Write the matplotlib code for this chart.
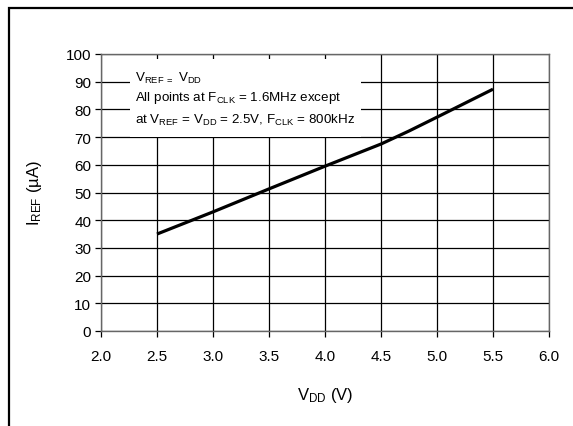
import matplotlib.pyplot as plt
from matplotlib.patches import Rectangle

plt.rcParams['font.family'] = ['Liberation Sans', 'DejaVu Sans']
plt.rcParams['mathtext.fontset'] = 'custom'
plt.rcParams['mathtext.rm'] = 'Liberation Sans'
plt.rcParams['mathtext.it'] = 'Liberation Sans'
plt.rcParams['mathtext.default'] = 'regular'

vdd = [2.5, 3.0, 3.5, 4.0, 4.5, 4.75, 5.0, 5.5]
iref = [35, 43, 51.3, 59.5, 67.5, 72.2, 77.2, 87.3]
xticks = [2.0, 2.5, 3.0, 3.5, 4.0, 4.5, 5.0, 5.5, 6.0]
yticks = list(range(0, 101, 10))

fig = plt.figure(figsize=(5.73, 4.27), dpi=100)
ax = fig.add_axes([101 / 573, 1 - 332 / 427, 448 / 573, 277 / 427])

# outer frame (only left and top edges visible in the picture)
fig.add_artist(Rectangle((9 / 573, -0.05), 1.2, (427 - 9) / 427 + 0.05,
                         transform=fig.transFigure, fill=False,
                         edgecolor='black', linewidth=1.6))

ax.plot(vdd, iref, color='black', linewidth=2.3, solid_capstyle='butt', zorder=3)

ax.set_xlim(2.0, 6.0)
ax.set_ylim(0, 100)
ax.set_xticks(xticks)
ax.set_xticklabels(['%.1f' % t for t in xticks])
ax.set_yticks(yticks)
ax.grid(True, color='black', linewidth=0.9)
ax.set_axisbelow(True)
for s in ax.spines.values():
    s.set_color('#666666')
    s.set_linewidth(1.0)
ax.tick_params(axis='both', direction='out', length=4, width=0.9,
               color='black', labelsize=11, pad=3)
ax.tick_params(axis='x', pad=9)

ax.set_xlabel('V$_{DD}$ (V)', fontsize=12, labelpad=16)
ax.set_ylabel('I$_{REF}$ (µA)', fontsize=12, labelpad=16)

# white annotation box covering grid
ax.add_patch(Rectangle((2.26, 70), 4.32 - 2.26, 98.2 - 70, facecolor='white',
                       edgecolor='none', zorder=2))
ax.text(2.3, 91.5, 'V$_{REF\\ =}$ V$_{DD}$', fontsize=9.6, va='center', zorder=4)
ax.text(2.3, 84.3, 'All points at F$_{CLK}$ = 1.6MHz except', fontsize=9.6,
        va='center', zorder=4)
ax.text(2.3, 76.5, 'at V$_{REF}$ = V$_{DD}$ = 2.5V, F$_{CLK}$ = 800kHz', fontsize=9.6,
        va='center', zorder=4)

fig.savefig('out.png', dpi=100)
